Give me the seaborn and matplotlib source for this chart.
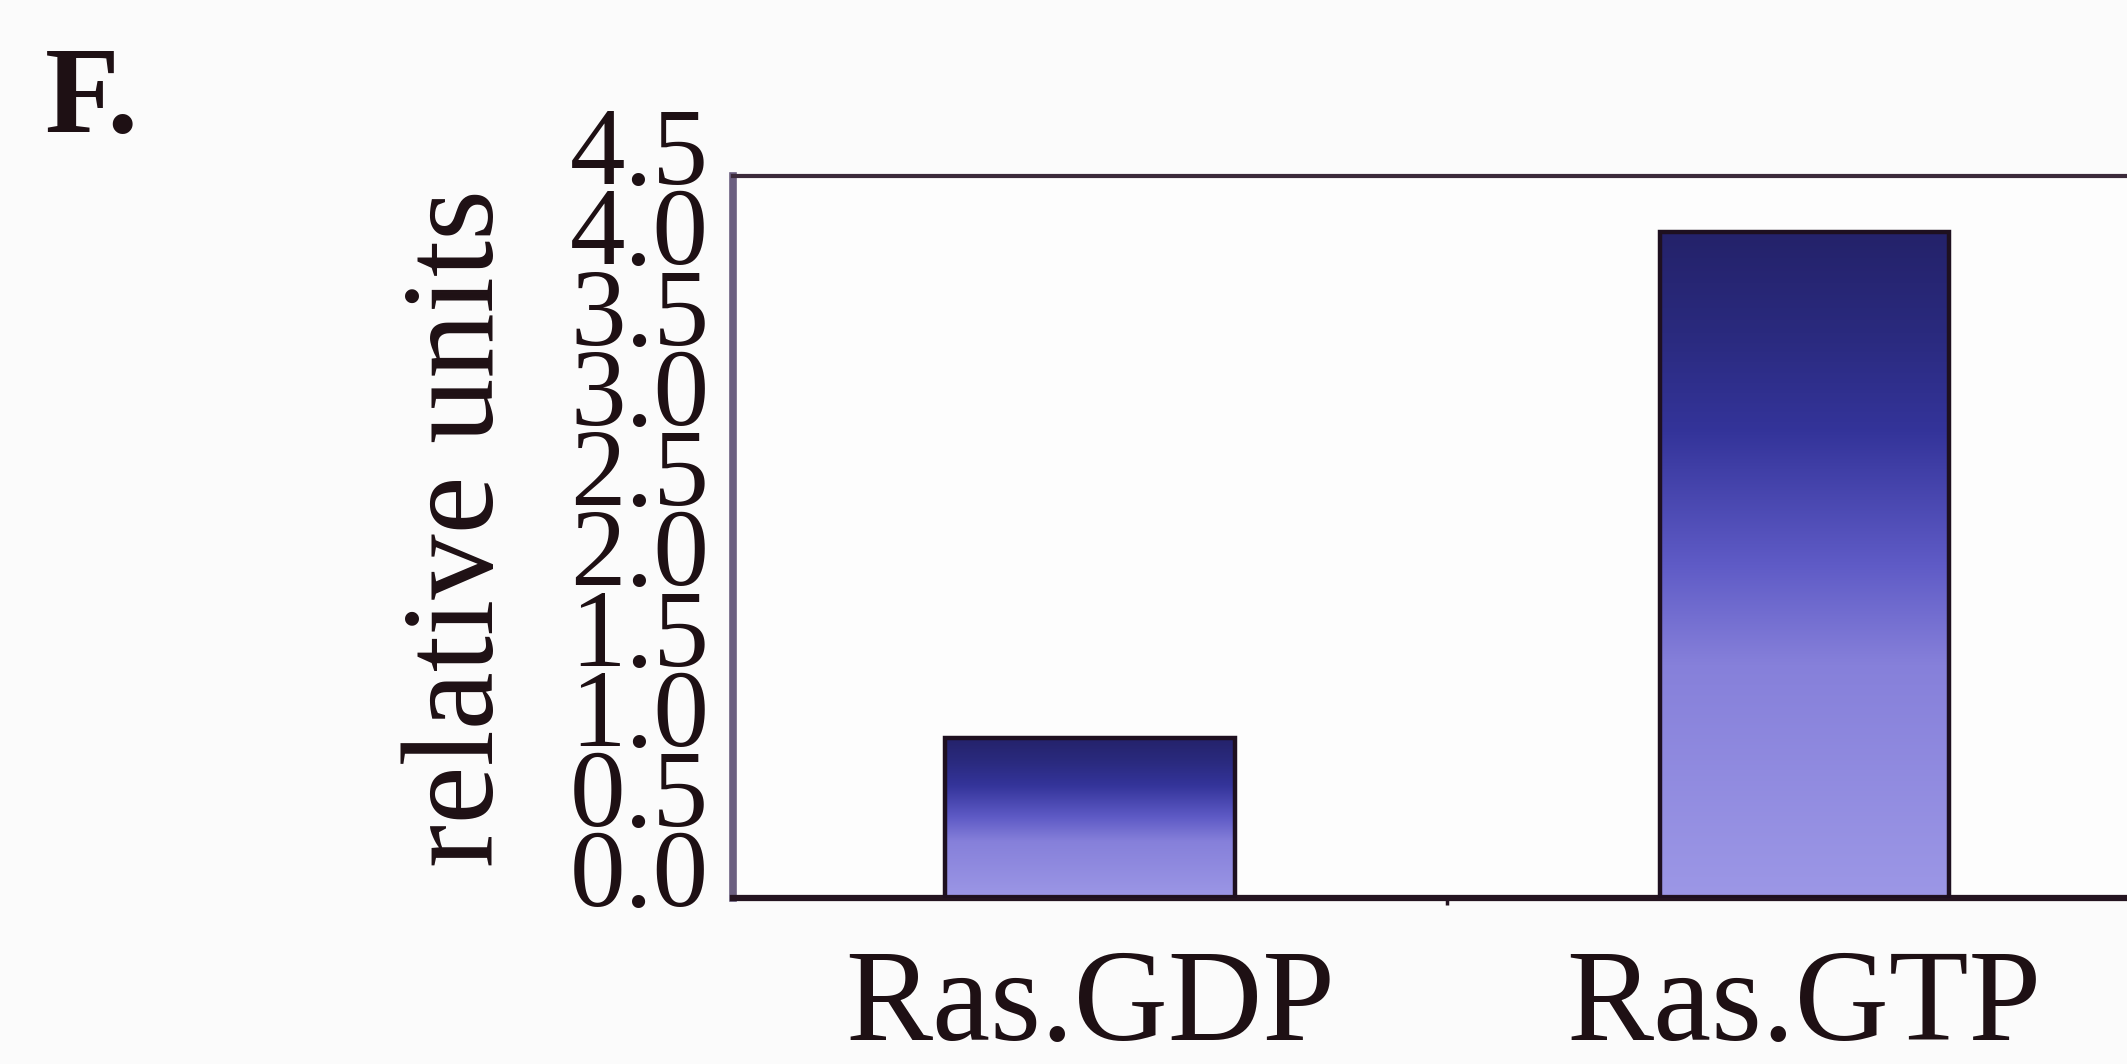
import numpy as np
import seaborn as sns
import matplotlib.pyplot as plt
import matplotlib.transforms as mtransforms
from matplotlib.colors import LinearSegmentedColormap

# values
categories = ["Ras.GDP", "Ras.GTP"]
values = [1.0, 4.15]
y_ticks = [0.0, 0.5, 1.0, 1.5, 2.0, 2.5, 3.0, 3.5, 4.0, 4.5]
y_label = "relative units"
panel_label = "F."

sns.set_style("white")
plt.rcParams['font.family'] = ['Liberation Serif', 'DejaVu Serif']
text_col = '#1e1014'

# light lavender at the bottom of each bar, dark navy at the top
bar_cmap = LinearSegmentedColormap.from_list(
    "ras", [(0.0, '#9c97e6'), (0.35, '#8680da'), (0.5, '#5f5bc6'),
            (0.7, '#34349a'), (0.85, '#2a2a7e'), (1.0, '#24226a')])

fig = plt.figure(figsize=(21.27, 10.64), dpi=100, facecolor='#fbfbfb')
ax = fig.add_axes([0.3446, 0.156, 0.6554, 0.6786])
ax.set_facecolor('#fdfdfd')

sns.barplot(x=categories, y=values, width=0.405, color='#5f5bc6', errorbar=None,
            edgecolor='#1e1020', linewidth=3.2, ax=ax, zorder=3)

# gradient fill for each bar
grad = np.linspace(0, 1, 256).reshape(-1, 1)
for p in ax.patches:
    p.set_facecolor('none')
    x0 = p.get_x()
    ax.imshow(grad, cmap=bar_cmap, aspect='auto', origin='lower', zorder=2,
              extent=[x0, x0 + p.get_width(), 0, p.get_height()])

ax.set_xlim(-0.5, 1.452)
ax.set_ylim(0, 4.5)
ax.set_xticks([0.5], minor=True)
ax.tick_params(axis='x', which='minor', bottom=True, length=5, width=2.5,
               direction='out', color='#241420')
ax.tick_params(axis='y', length=0, pad=17)
ax.tick_params(axis='x', which='major', length=0, pad=36, labelsize=94,
               labelcolor=text_col)
ax.set_yticks(y_ticks)
ax.set_yticklabels([f"{t:.1f}" for t in y_ticks], fontsize=80, color=text_col)
# labels sit a little above their tick positions in the original
shift = mtransforms.ScaledTranslation(0, 0.3, fig.dpi_scale_trans)
for lbl in ax.get_yticklabels():
    lbl.set_transform(lbl.get_transform() + shift)

ax.set_ylabel(y_label, fontsize=94, color=text_col)
ax.yaxis.set_label_coords(-0.152, 0.512)
ax.set_xlabel("")

ax.spines['right'].set_visible(False)
ax.spines['left'].set_color('#6b5f80')
ax.spines['left'].set_linewidth(5.5)
ax.spines['bottom'].set_color('#241420')
ax.spines['bottom'].set_linewidth(4.5)
ax.spines['top'].set_color('#3b2a3a')
ax.spines['top'].set_linewidth(3)

fig.text(45 / 2127, 1 - 132 / 1064, panel_label, fontsize=88, fontweight='bold',
         color=text_col, ha='left', va='baseline')

fig.savefig('out.png', dpi=100, facecolor=fig.get_facecolor())
